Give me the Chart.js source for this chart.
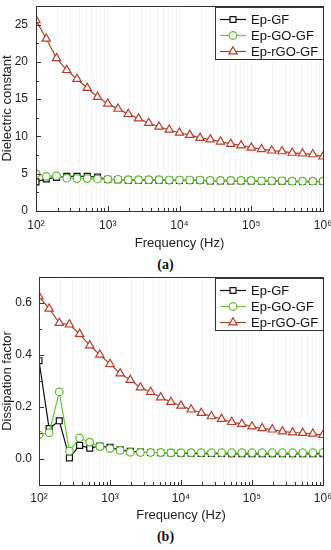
<!DOCTYPE html>
<html>
<head>
<meta charset="utf-8">
<script src="https://cdn.jsdelivr.net/npm/chart.js@4.4.1/dist/chart.umd.min.js"></script>
<style>
    body { margin: 0; background: #fff; width: 331px; height: 550px; position: relative; overflow: hidden; }
    .box { position: absolute; left: 0; width: 331px; }
    .cap { position: absolute; left: 0; width: 331px; text-align: center; font: bold 14px "Liberation Serif", "Times New Roman", serif; line-height: 16px; color: #111; }
</style>
</head>
<body>
<div class="box" style="top:0;height:252px"><canvas id="chartA" width="331" height="252"></canvas></div>
<div class="cap" style="top:257px">(a)</div>
<div class="box" style="top:270px;height:256px"><canvas id="chartB" width="331" height="256"></canvas></div>
<div class="cap" style="top:529px">(b)</div>
<script>
// frequencies (Hz), 7 points per decade
const freq = [100, 138.95, 193.07, 268.27, 372.76, 517.95, 719.69,
    1000, 1389.5, 1930.7, 2682.7, 3727.6, 5179.5, 7196.9,
    10000, 13895, 19307, 26827, 37276, 51795, 71969,
    100000, 138950, 193070, 268270, 372760, 517950, 719690, 1000000];

const seriesNames = ['Ep-GF', 'Ep-GO-GF', 'Ep-rGO-GF'];

// (a) dielectric constant
const epsGF = [3.9, 4.3, 4.5, 4.65, 4.65, 4.65, 4.55, 4.25, 4.2, 4.15, 4.15, 4.15, 4.15, 4.1, 4.1,
    4.1, 4.1, 4.05, 4.05, 4.05, 4.05, 4.05, 4.0, 4.0, 4.0, 3.95, 3.95, 3.95, 3.95];
const epsGOGF = [5.0, 4.65, 4.7, 4.4, 4.35, 4.35, 4.3, 4.25, 4.25, 4.2, 4.2, 4.2, 4.2, 4.15, 4.15,
    4.15, 4.15, 4.1, 4.1, 4.1, 4.1, 4.1, 4.05, 4.05, 4.05, 4.0, 4.0, 4.0, 4.0];
const epsRGOGF = [25.6, 23.1, 20.5, 18.9, 17.7, 16.5, 15.3, 14.4, 13.7, 13.0, 12.4, 11.8, 11.3, 10.9, 10.5,
    10.2, 9.8, 9.6, 9.3, 9.0, 8.8, 8.5, 8.3, 8.1, 8.0, 7.8, 7.7, 7.6, 7.3];

// (b) dissipation factor
const tanGF = [0.378, 0.117, 0.147, 0.004, 0.052, 0.042, 0.05, 0.045, 0.035, 0.03, 0.027, 0.025, 0.024, 0.023, 0.022,
    0.022, 0.021, 0.021, 0.021, 0.02, 0.02, 0.02, 0.02, 0.02, 0.02, 0.02, 0.02, 0.02, 0.02];
const tanGOGF = [0.093, 0.101, 0.258, 0.031, 0.081, 0.065, 0.048, 0.04, 0.033, 0.026, 0.025, 0.025, 0.025, 0.024, 0.024,
    0.024, 0.024, 0.024, 0.024, 0.024, 0.024, 0.024, 0.024, 0.024, 0.024, 0.024, 0.024, 0.024, 0.025];
const tanRGOGF = [0.625, 0.578, 0.523, 0.517, 0.481, 0.437, 0.401, 0.365, 0.329, 0.304, 0.275, 0.258, 0.237, 0.219, 0.205,
    0.19, 0.177, 0.164, 0.154, 0.142, 0.135, 0.125, 0.118, 0.113, 0.106, 0.102, 0.1, 0.097, 0.092];

// tick labels
const xMajor = [1e2, 1e3, 1e4, 1e5, 1e6];
const xTickLabels = ['10²', '10³', '10⁴', '10⁵', '10⁶'];
const yTicksA = [0, 5, 10, 15, 20, 25];
const yTicksB = [0.0, 0.2, 0.4, 0.6];

const family = '"Liberation Sans", Arial, sans-serif';
const styles = [
    { line: '#111111', point: '#111111', shape: 'rect', r: 4.2 },
    { line: '#68c83a', point: '#5cbc2c', shape: 'circle', r: 3.8 },
    { line: '#9b4a25', point: '#bf3a2b', shape: 'triangle', r: 4.8 }
];

// grid positions on the log axis: 1..9 x each decade
const gridValues = [];
xMajor.slice(0, -1).forEach(d => { for (let m = 1; m <= 9; m++) gridValues.push(m * d); });
gridValues.push(xMajor[xMajor.length - 1]);

function dataset(i, values) {
    const s = styles[i];
    return {
        label: seriesNames[i],
        data: freq.map((f, k) => ({ x: f, y: values[k] })),
        borderColor: s.line,
        borderWidth: 1.2,
        pointStyle: s.shape,
        pointRadius: s.r,
        pointBorderColor: s.point,
        pointBackgroundColor: '#ffffff',
        pointBorderWidth: 1.2,
        tension: 0,
        order: 3 - i
    };
}

function marker(ctx, shape, x, y, r) {
    ctx.beginPath();
    if (shape === 'circle') {
        ctx.arc(x, y, r, 0, Math.PI * 2);
    } else if (shape === 'rect') {
        const s = r * Math.SQRT1_2;
        ctx.rect(x - s, y - s, 2 * s, 2 * s);
    } else {
        const t = 2 * Math.PI / 3;
        ctx.moveTo(x, y - r);
        ctx.lineTo(x + r * Math.sin(t), y - r * Math.cos(t));
        ctx.lineTo(x + r * Math.sin(2 * t), y - r * Math.cos(2 * t));
        ctx.closePath();
    }
    ctx.fill();
    ctx.stroke();
}

// frame, inward ticks and an inset legend
const framePlugin = {
    id: 'frame',
    afterDraw(chart) {
        const ctx = chart.ctx, a = chart.chartArea;
        const xs = chart.scales.x, ys = chart.scales.y;
        const yTicks = chart.options.yTickList;
        const px = v => Math.round(v) + 0.5;
        ctx.save();
        ctx.strokeStyle = '#333';
        ctx.lineWidth = 1;
        ctx.beginPath();
        xs.ticks.forEach(t => {
            const x = px(xs.getPixelForValue(t.value));
            const len = xMajor.includes(t.value) ? 5 : 3;
            ctx.moveTo(x, a.bottom);
            ctx.lineTo(x, a.bottom - len);
        });
        const step = yTicks[1] - yTicks[0];
        const minor = yTicks.map(v => v + step / 2).concat([yTicks[0] - step / 2]);
        yTicks.forEach(v => {
            const y = px(ys.getPixelForValue(v));
            ctx.moveTo(a.left, y);
            ctx.lineTo(a.left + 5, y);
        });
        minor.forEach(v => {
            if (v < ys.min || v > ys.max) return;
            const y = px(ys.getPixelForValue(v));
            ctx.moveTo(a.left, y);
            ctx.lineTo(a.left + 3, y);
        });
        ctx.stroke();
        ctx.strokeRect(px(a.left), px(a.top), Math.round(a.right - a.left), Math.round(a.bottom - a.top));

        // legend
        const w = 108, h = 52;
        const left = Math.round(a.right) - w, top = Math.round(a.top) + 1;
        ctx.fillStyle = '#fff';
        ctx.fillRect(left, top, w, h);
        ctx.strokeStyle = '#333';
        ctx.strokeRect(left + 0.5, top + 0.5, w, h);
        const rows = [12.5, 28.5, 44.5];
        ctx.font = '13px ' + family;
        ctx.textBaseline = 'middle';
        seriesNames.forEach((name, i) => {
            const s = styles[i];
            const y = top + rows[i];
            ctx.strokeStyle = s.line;
            ctx.lineWidth = 1.2;
            ctx.beginPath();
            ctx.moveTo(left + 5, y);
            ctx.lineTo(left + 31, y);
            ctx.stroke();
            ctx.fillStyle = '#fff';
            ctx.strokeStyle = s.point;
            marker(ctx, s.shape, left + 18, y, s.r);
            ctx.fillStyle = '#111';
            ctx.fillText(name, left + 36, y + 0.5);
        });
        ctx.restore();
    }
};

function makeChart(id, sets, opt) {
    return new Chart(document.getElementById(id), {
        type: 'line',
        data: { datasets: sets },
        options: {
            responsive: false,
            animation: false,
            yTickList: opt.yTicks,
            layout: { padding: { left: 0, top: opt.padTop, right: 8, bottom: 0 } },
            plugins: { legend: { display: false }, tooltip: { enabled: false } },
            scales: {
                x: {
                    type: 'logarithmic',
                    min: 100,
                    max: 1e6,
                    afterBuildTicks: s => { s.ticks = gridValues.map(v => ({ value: v })); },
                    afterFit: s => { s.height = 41; s.paddingLeft = 0; s.paddingRight = 0; },
                    grid: { color: 'rgba(0,0,0,0.04)', drawTicks: false },
                    border: { display: false },
                    ticks: {
                        autoSkip: false,
                        maxRotation: 0,
                        padding: opt.xTickPad,
                        color: '#222',
                        font: { size: 12, family: family },
                        callback: v => {
                            const i = xMajor.indexOf(v);
                            return i >= 0 ? xTickLabels[i] : '';
                        }
                    },
                    title: {
                        display: true,
                        text: 'Frequency (Hz)',
                        color: '#222',
                        font: { size: 13, family: family },
                        padding: { top: 0, bottom: opt.xTitlePad }
                    }
                },
                y: {
                    min: opt.yMin,
                    max: opt.yMax,
                    afterBuildTicks: s => { s.ticks = opt.yTicks.map(v => ({ value: v })); },
                    afterFit: s => { s.width = opt.yWidth; s.paddingTop = 0; s.paddingBottom = 0; },
                    grid: { display: false, drawTicks: false },
                    border: { display: false },
                    ticks: {
                        padding: opt.yTickPad,
                        color: '#222',
                        font: { size: 12, family: family },
                        callback: opt.fmt
                    },
                    title: {
                        display: true,
                        text: opt.yTitle,
                        color: '#222',
                        font: { size: 13, family: family },
                        padding: { top: 0, bottom: 0 }
                    }
                }
            }
        },
        plugins: [framePlugin]
    });
}

makeChart('chartA', [dataset(0, epsGF), dataset(1, epsGOGF), dataset(2, epsRGOGF)], {
    yMin: 0, yMax: 27.5, yTicks: yTicksA, yTitle: 'Dielectric constant',
    yWidth: 36, padTop: 4, xTickPad: 7.5, xTitlePad: 1.2, yTickPad: 8,
    fmt: v => String(v)
});

makeChart('chartB', [dataset(0, tanGF), dataset(1, tanGOGF), dataset(2, tanRGOGF)], {
    yMin: -0.1, yMax: 0.7, yTicks: yTicksB, yTitle: 'Dissipation factor',
    yWidth: 39, padTop: 7, xTickPad: 6, xTitlePad: 3.2, yTickPad: 7,
    fmt: v => Number(v).toFixed(1)
});
</script>
</body>
</html>
